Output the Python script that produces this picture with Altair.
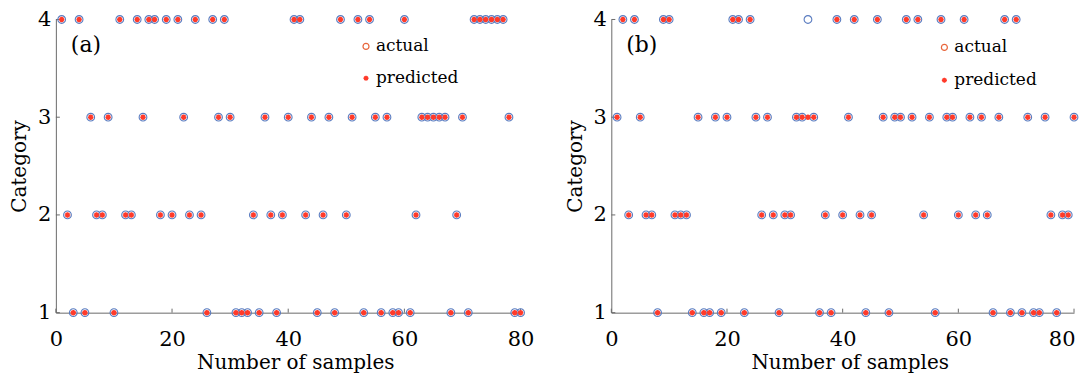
import altair as alt
import pandas as pd

# sample index (x) for both panels
samples = list(range(1, 81))

# panel (a): actual and predicted category for each sample
actual_a = [4, 2, 1, 4, 1, 3, 2, 2, 3, 1,
            4, 2, 2, 4, 3, 4, 4, 2, 4, 2,
            4, 3, 2, 4, 2, 1, 4, 3, 4, 3,
            1, 1, 1, 2, 1, 3, 2, 1, 2, 3,
            4, 4, 2, 3, 1, 2, 3, 1, 4, 2,
            3, 4, 1, 4, 3, 1, 3, 1, 1, 4,
            1, 2, 3, 3, 3, 3, 3, 1, 2, 3,
            1, 4, 4, 4, 4, 4, 4, 3, 1, 1]
pred_a = [4, 2, 1, 4, 1, 3, 2, 2, 3, 1,
          4, 2, 2, 4, 3, 4, 4, 2, 4, 2,
          4, 3, 2, 4, 2, 1, 4, 3, 4, 3,
          1, 1, 1, 2, 1, 3, 2, 1, 2, 3,
          4, 4, 2, 3, 1, 2, 3, 1, 4, 2,
          3, 4, 1, 4, 3, 1, 3, 1, 1, 4,
          1, 2, 3, 3, 3, 3, 3, 1, 2, 3,
          1, 4, 4, 4, 4, 4, 4, 3, 1, 1]

# panel (b)
actual_b = [3, 4, 2, 4, 3, 2, 2, 1, 4, 4,
            2, 2, 2, 1, 3, 1, 1, 3, 1, 3,
            4, 4, 1, 4, 3, 2, 3, 2, 1, 2,
            2, 3, 3, 4, 3, 1, 2, 1, 4, 2,
            3, 4, 2, 1, 2, 4, 3, 1, 3, 3,
            4, 3, 4, 2, 3, 1, 4, 3, 3, 2,
            4, 3, 2, 3, 2, 1, 3, 4, 1, 4,
            1, 3, 1, 1, 3, 2, 1, 2, 2, 3]
pred_b = [3, 4, 2, 4, 3, 2, 2, 1, 4, 4,
          2, 2, 2, 1, 3, 1, 1, 3, 1, 3,
          4, 4, 1, 4, 3, 2, 3, 2, 1, 2,
          2, 3, 3, 3, 3, 1, 2, 1, 4, 2,
          3, 4, 2, 1, 2, 4, 3, 1, 3, 3,
          4, 3, 4, 2, 3, 1, 4, 3, 3, 2,
          4, 3, 2, 3, 2, 1, 3, 4, 1, 4,
          1, 3, 1, 1, 3, 2, 1, 2, 2, 3]

x_ticks = [0, 20, 40, 60, 80]
y_ticks = [1, 2, 3, 4]
legend_labels = ["actual", "predicted"]

SERIF = "DejaVu Serif"
BLUE = "#5a7cc0"
RED = "#ff3a2a"
LEG_CIRCLE = "#e8663c"
AXIS_COL = "#6a6a6a"
ASTER = "M0,-1L0,1M-1,0L1,0M-0.7,-0.7L0.7,0.7M-0.7,0.7L0.7,-0.7"
H = 294


def panel(actual, pred, tag, width, leg_x, leg_y0, leg_y1, flush_last):
    df = pd.DataFrame({"sample": samples, "actual": actual, "predicted": pred})
    xs = alt.Scale(domain=[0, 80], nice=False, zero=False)
    ys = alt.Scale(domain=[1, 4], nice=False, zero=False)
    xkw = {}
    if flush_last:
        xkw = dict(
            labelAlign={"condition": {"test": "datum.value == 80", "value": "right"}, "value": "center"},
            labelOffset={"condition": {"test": "datum.value == 80", "value": 1}, "value": 0},
        )
    xax = alt.Axis(values=x_ticks, title="Number of samples", ticks=False, grid=False,
                   format="d", labelPadding=16, titlePadding=3, labelFontSize=21,
                   titleFontSize=20, labelFlush=False, titleX=width / 2 + 7, **xkw)
    yax = alt.Axis(values=y_ticks, title="Category", ticks=False, grid=False,
                   format="d", labelPadding=5, titlePadding=8, labelFontSize=21,
                   titleFontSize=20)

    circles = alt.Chart(df).mark_point(
        shape="circle", filled=False, size=60, stroke=BLUE, strokeWidth=1.1, opacity=1
    ).encode(
        x=alt.X("sample:Q", scale=xs, axis=xax),
        y=alt.Y("actual:Q", scale=ys, axis=yax),
    )
    stars = alt.Chart(df).mark_point(
        shape=ASTER, filled=False, size=30, stroke=RED, strokeWidth=1.6, opacity=1
    ).encode(
        x=alt.X("sample:Q", scale=xs, axis=xax),
        y=alt.Y("predicted:Q", scale=ys, axis=yax),
    )

    xt = pd.DataFrame({"t": x_ticks})
    yt = pd.DataFrame({"t": y_ticks})
    xtick = alt.Chart(xt).mark_rule(color=AXIS_COL, strokeWidth=1).encode(
        x=alt.X("t:Q", scale=xs, axis=xax), y=alt.value(H), y2=alt.value(H - 4)
    )
    ytick = alt.Chart(yt).mark_rule(color=AXIS_COL, strokeWidth=1).encode(
        y=alt.Y("t:Q", scale=ys, axis=yax), x=alt.value(0), x2=alt.value(4)
    )

    tag_df = pd.DataFrame({"t": [tag]})
    tag_txt = alt.Chart(tag_df).mark_text(
        font=SERIF, fontSize=22, align="left", baseline="middle", color="black"
    ).encode(text="t:N", x=alt.value(15), y=alt.value(26))

    leg_df = pd.DataFrame({"t": legend_labels, "yy": [leg_y0, leg_y1]})
    leg_text = alt.Chart(leg_df).mark_text(
        font=SERIF, fontSize=17, align="left", baseline="middle", color="black"
    ).encode(text="t:N", x=alt.value(leg_x + 10), y=alt.Y("yy:Q", scale=None))
    leg_circ = alt.Chart(leg_df.iloc[[0]]).mark_point(
        shape="circle", filled=False, size=36, stroke=LEG_CIRCLE, strokeWidth=1.2, opacity=1
    ).encode(x=alt.value(leg_x), y=alt.Y("yy:Q", scale=None))
    leg_star = alt.Chart(leg_df.iloc[[1]]).mark_point(
        shape=ASTER, filled=False, size=26, stroke=RED, strokeWidth=1.4, opacity=1
    ).encode(x=alt.value(leg_x), y=alt.Y("yy:Q", scale=None))

    return alt.layer(xtick, ytick, circles, stars, tag_txt, leg_text, leg_circ, leg_star).properties(
        width=width, height=H
    )


pa = panel(actual_a, pred_a, "(a)", 466, 311, 27, 59, False)
pb = panel(actual_b, pred_b, "(b)", 464, 334, 28, 61, True)

chart = alt.hconcat(pa, pb, spacing=30).properties(
    padding={"left": 1, "top": 0, "right": 0, "bottom": 0}
).configure_axis(
    domainColor=AXIS_COL, domainWidth=1, labelColor="black", titleColor="black",
    labelFont=SERIF, titleFont=SERIF, titleFontWeight="normal"
).configure_view(stroke=None)

chart.save("out.html", embed_options={"renderer": "svg", "actions": False})
